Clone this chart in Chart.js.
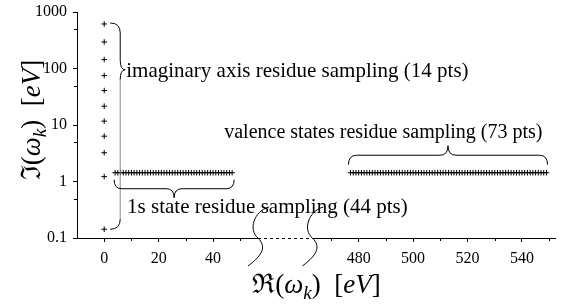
<!DOCTYPE html>
<html>
<head>
<meta charset="utf-8">
<script src="https://cdn.jsdelivr.net/npm/chart.js@4/dist/chart.umd.min.js"></script>
<style>
  html, body { margin: 0; padding: 0; background: #fff; }
  #wrap { width: 561px; height: 304px; }
</style>
</head>
<body>
<div id="wrap"><canvas id="residueChart" width="561" height="304"></canvas></div>
<script>
// imaginary axis residues (Re = 0)
const imagX = [0, 0, 0, 0, 0, 0, 0, 0, 0, 0, 0];
const imagY = [614, 295, 144, 75, 40.7, 21.5, 11.7, 6.34, 3.23, 1.22, 0.143];

// 1s core state residues
const coreX = [4, 5, 6, 7, 8, 9, 10, 11, 12, 13, 14, 15, 16, 17, 18, 19, 20, 21, 22, 23, 24, 25,
  26, 27, 28, 29, 30, 31, 32, 33, 34, 35, 36, 37, 38, 39, 40, 41, 42, 43, 44, 45, 46, 47];
const coreY = [1.43, 1.43, 1.43, 1.43, 1.43, 1.43, 1.43, 1.43, 1.43, 1.43, 1.43, 1.43, 1.43, 1.43,
  1.43, 1.43, 1.43, 1.43, 1.43, 1.43, 1.43, 1.43, 1.43, 1.43, 1.43, 1.43, 1.43, 1.43, 1.43, 1.43,
  1.43, 1.43, 1.43, 1.43, 1.43, 1.43, 1.43, 1.43, 1.43, 1.43, 1.43, 1.43, 1.43, 1.43];

// valence state residues
const valX = [477, 478, 479, 480, 481, 482, 483, 484, 485, 486, 487, 488, 489, 490, 491, 492, 493,
  494, 495, 496, 497, 498, 499, 500, 501, 502, 503, 504, 505, 506, 507, 508, 509, 510, 511, 512,
  513, 514, 515, 516, 517, 518, 519, 520, 521, 522, 523, 524, 525, 526, 527, 528, 529, 530, 531,
  532, 533, 534, 535, 536, 537, 538, 539, 540, 541, 542, 543, 544, 545, 546, 547, 548, 549];
const valY = [1.43, 1.43, 1.43, 1.43, 1.43, 1.43, 1.43, 1.43, 1.43, 1.43, 1.43, 1.43, 1.43, 1.43,
  1.43, 1.43, 1.43, 1.43, 1.43, 1.43, 1.43, 1.43, 1.43, 1.43, 1.43, 1.43, 1.43, 1.43, 1.43, 1.43,
  1.43, 1.43, 1.43, 1.43, 1.43, 1.43, 1.43, 1.43, 1.43, 1.43, 1.43, 1.43, 1.43, 1.43, 1.43, 1.43,
  1.43, 1.43, 1.43, 1.43, 1.43, 1.43, 1.43, 1.43, 1.43, 1.43, 1.43, 1.43, 1.43, 1.43, 1.43, 1.43,
  1.43, 1.43, 1.43, 1.43, 1.43, 1.43, 1.43, 1.43, 1.43, 1.43, 1.43];

// tick labels
const xTicks = [0, 20, 40, 480, 500, 520, 540];
const xMinorTicks = [10, 30, 50, 470, 490, 510, 530, 550];
const yTicks = [0.1, 1, 10, 100, 1000];
const yTickLabels = ['0.1', '1', '10', '100', '1000'];
const yMinorTicks = [0.5, 5, 50, 500];

const labels = {
  imag: 'imaginary axis residue sampling (14 pts)',
  core: '1s state residue sampling (44 pts)',
  val: 'valence states residue sampling (73 pts)'
};

// broken x axis: everything past the break is shifted left
const breakLo = 56.5, breakHi = 463, xShift = 386.5;
const xMin = -10, xMax = 552.5;
const tx = v => (v > breakLo ? v - xShift : v);
const untx = v => (v > breakLo ? v + xShift : v);

const serif = '"Liberation Serif", "DejaVu Serif", serif';

const pts = (xs, ys) => xs.map((v, i) => ({ x: tx(v), y: ys[i] }));

function mathText(ctx, parts, size, cx, cy) {
  const fontFor = p => (p.it ? 'italic ' : '') + Math.round(size * (p.sub ? 0.7 : 1)) + 'px ' + serif;
  let w = 0;
  parts.forEach(p => { ctx.font = fontFor(p); w += ctx.measureText(p.t).width; });
  let x = cx - w / 2;
  ctx.textAlign = 'left';
  ctx.textBaseline = 'alphabetic';
  parts.forEach(p => {
    ctx.font = fontFor(p);
    ctx.fillText(p.t, x, cy + (p.sub ? size * 0.22 : 0));
    x += ctx.measureText(p.t).width;
  });
}

function hBrace(ctx, x1, x2, y0, d) {
  const ym = y0 + d / 2, yt = y0 + d, xm = (x1 + x2) / 2, r = 8;
  ctx.beginPath();
  ctx.moveTo(x1, y0);
  ctx.quadraticCurveTo(x1, ym, x1 + r, ym);
  ctx.lineTo(xm - r, ym);
  ctx.quadraticCurveTo(xm, ym, xm, yt);
  ctx.quadraticCurveTo(xm, ym, xm + r, ym);
  ctx.lineTo(x2 - r, ym);
  ctx.quadraticCurveTo(x2, ym, x2, y0);
  ctx.stroke();
}

function vBrace(ctx, x0, yTop, yBot, yTip) {
  const xs = x0 + 10, xt = x0 + 15, r = 10;
  ctx.beginPath();
  ctx.moveTo(x0, yTop);
  ctx.quadraticCurveTo(xs, yTop, xs, yTop + r);
  ctx.lineTo(xs, yTip - r);
  ctx.quadraticCurveTo(xs, yTip, xt, yTip);
  ctx.quadraticCurveTo(xs, yTip, xs, yTip + r);
  ctx.stroke();
  // long lower arm is rendered lighter in the original
  ctx.save();
  ctx.strokeStyle = '#888';
  ctx.beginPath();
  ctx.moveTo(xs, yTip + r);
  ctx.lineTo(xs, yBot - r);
  ctx.stroke();
  ctx.restore();
  ctx.beginPath();
  ctx.moveTo(xs, yBot - r);
  ctx.quadraticCurveTo(xs, yBot, x0, yBot);
  ctx.stroke();
}

function squiggle(ctx, bx, by) {
  ctx.beginPath();
  ctx.moveTo(bx + 11, by - 31);
  ctx.bezierCurveTo(bx - 4, by - 27, bx - 10, by - 8, bx, by);
  ctx.bezierCurveTo(bx + 8, by + 8, bx + 6, by + 16, bx - 10, by + 28);
  ctx.stroke();
}

const annotate = {
  id: 'annotate',
  afterDraw(chart) {
    const { ctx, scales: { x, y }, chartArea } = chart;
    const ax = chartArea.bottom;
    const b1 = x.getPixelForValue(tx(breakLo));
    const b2 = x.getPixelForValue(tx(breakHi));
    ctx.save();
    ctx.strokeStyle = '#000';
    ctx.fillStyle = '#000';
    ctx.lineWidth = 1;

    // x axis line with break
    ctx.beginPath();
    ctx.moveTo(chartArea.left, ax + 0.5); ctx.lineTo(b1, ax + 0.5);
    ctx.moveTo(b2, ax + 0.5); ctx.lineTo(chartArea.right, ax + 0.5);
    ctx.stroke();
    ctx.setLineDash([3, 3]);
    ctx.beginPath();
    ctx.moveTo(b1, ax + 0.5); ctx.lineTo(b2, ax + 0.5);
    ctx.stroke();
    ctx.setLineDash([]);
    squiggle(ctx, b1, ax);
    squiggle(ctx, b2, ax);

    // minor ticks
    ctx.beginPath();
    xMinorTicks.forEach(v => {
      const px = Math.round(x.getPixelForValue(tx(v))) + 0.5;
      ctx.moveTo(px, ax); ctx.lineTo(px, ax + 3);
    });
    yMinorTicks.forEach(v => {
      const py = Math.round(y.getPixelForValue(v)) + 0.5;
      ctx.moveTo(chartArea.left, py); ctx.lineTo(chartArea.left - 3, py);
    });
    ctx.stroke();

    // braces
    const ix = x.getPixelForValue(tx(imagX[0]));
    const tipY = y.getPixelForValue(95);
    vBrace(ctx, ix + 6, y.getPixelForValue(imagY[0]) - 1, y.getPixelForValue(imagY[imagY.length - 1]), tipY);
    const c1 = x.getPixelForValue(tx(coreX[0])), c2 = x.getPixelForValue(tx(coreX[coreX.length - 1]));
    const cy = y.getPixelForValue(coreY[0]);
    hBrace(ctx, c1 - 1, c2 + 2, cy + 7, 18);
    const v1 = x.getPixelForValue(tx(valX[0])), v2 = x.getPixelForValue(tx(valX[valX.length - 1]));
    const vy = y.getPixelForValue(valY[0]);
    hBrace(ctx, v1 - 2, v2 + 1, vy - 8, -19);

    // brace labels
    ctx.font = '21px ' + serif;
    ctx.textBaseline = 'middle';
    ctx.textAlign = 'left';
    ctx.fillText(labels.imag, ix + 22, tipY + 2);
    ctx.fillText(labels.core, c1 + 12, cy + 35);
    ctx.font = '20px ' + serif;
    ctx.textAlign = 'right';
    ctx.fillText(labels.val, v2 - 4, vy - 40);

    // axis titles
    mathText(ctx, [
      { t: 'ℜ' }, { t: '(' }, { t: 'ω', it: true }, { t: 'k', it: true, sub: true }, { t: ')' },
      { t: '  ' }, { t: '[' }, { t: 'eV', it: true }, { t: ']' }
    ], 27, (chartArea.left + chartArea.right) / 2, 293);
    ctx.translate(40, (chartArea.top + chartArea.bottom) / 2 - 5);
    ctx.rotate(-Math.PI / 2);
    mathText(ctx, [
      { t: 'ℑ' }, { t: '(' }, { t: 'ω', it: true }, { t: 'k', it: true, sub: true }, { t: ')' },
      { t: '  ' }, { t: '[' }, { t: 'eV', it: true }, { t: ']' }
    ], 27, 0, 0);
    ctx.restore();
  }
};

const cross = { pointStyle: 'cross', pointRadius: 2.8, pointBorderWidth: 1, borderColor: '#000', backgroundColor: '#000', showLine: false };

new Chart(document.getElementById('residueChart'), {
  type: 'scatter',
  data: {
    datasets: [
      Object.assign({ label: 'imag', data: pts(imagX, imagY) }, cross),
      Object.assign({ label: 'core', data: pts(coreX, coreY) }, cross),
      Object.assign({ label: 'val', data: pts(valX, valY) }, cross)
    ]
  },
  options: {
    responsive: false,
    animation: false,
    events: [],
    layout: { padding: { left: 0, right: 1, top: 12, bottom: 0 } },
    plugins: { legend: { display: false }, tooltip: { enabled: false } },
    scales: {
      x: {
        type: 'linear',
        min: tx(xMin),
        max: tx(xMax),
        afterFit: s => { s.height = 66; s.paddingLeft = 0; s.paddingRight = 0; },
        afterBuildTicks: s => { s.ticks = xTicks.map(v => ({ value: tx(v) })); },
        border: { display: false },
        grid: { drawOnChartArea: false, drawTicks: true, tickLength: 4, color: '#000' },
        ticks: {
          color: '#000', padding: 7, maxRotation: 0, autoSkip: false,
          font: { family: serif, size: 16 },
          callback: v => String(Math.round(untx(v)))
        }
      },
      y: {
        type: 'logarithmic',
        min: 0.1,
        max: 1000,
        afterFit: s => { s.width = 77; s.paddingTop = 0; s.paddingBottom = 0; },
        afterBuildTicks: s => { s.ticks = yTicks.map(v => ({ value: v })); },
        border: { display: true, color: '#000', width: 1 },
        grid: { drawOnChartArea: false, drawTicks: true, tickLength: 4, color: '#000' },
        ticks: {
          color: '#000', padding: 6, autoSkip: false,
          font: { family: serif, size: 16 },
          callback: v => yTickLabels[yTicks.indexOf(v)]
        }
      }
    }
  },
  plugins: [annotate]
});
</script>
</body>
</html>
